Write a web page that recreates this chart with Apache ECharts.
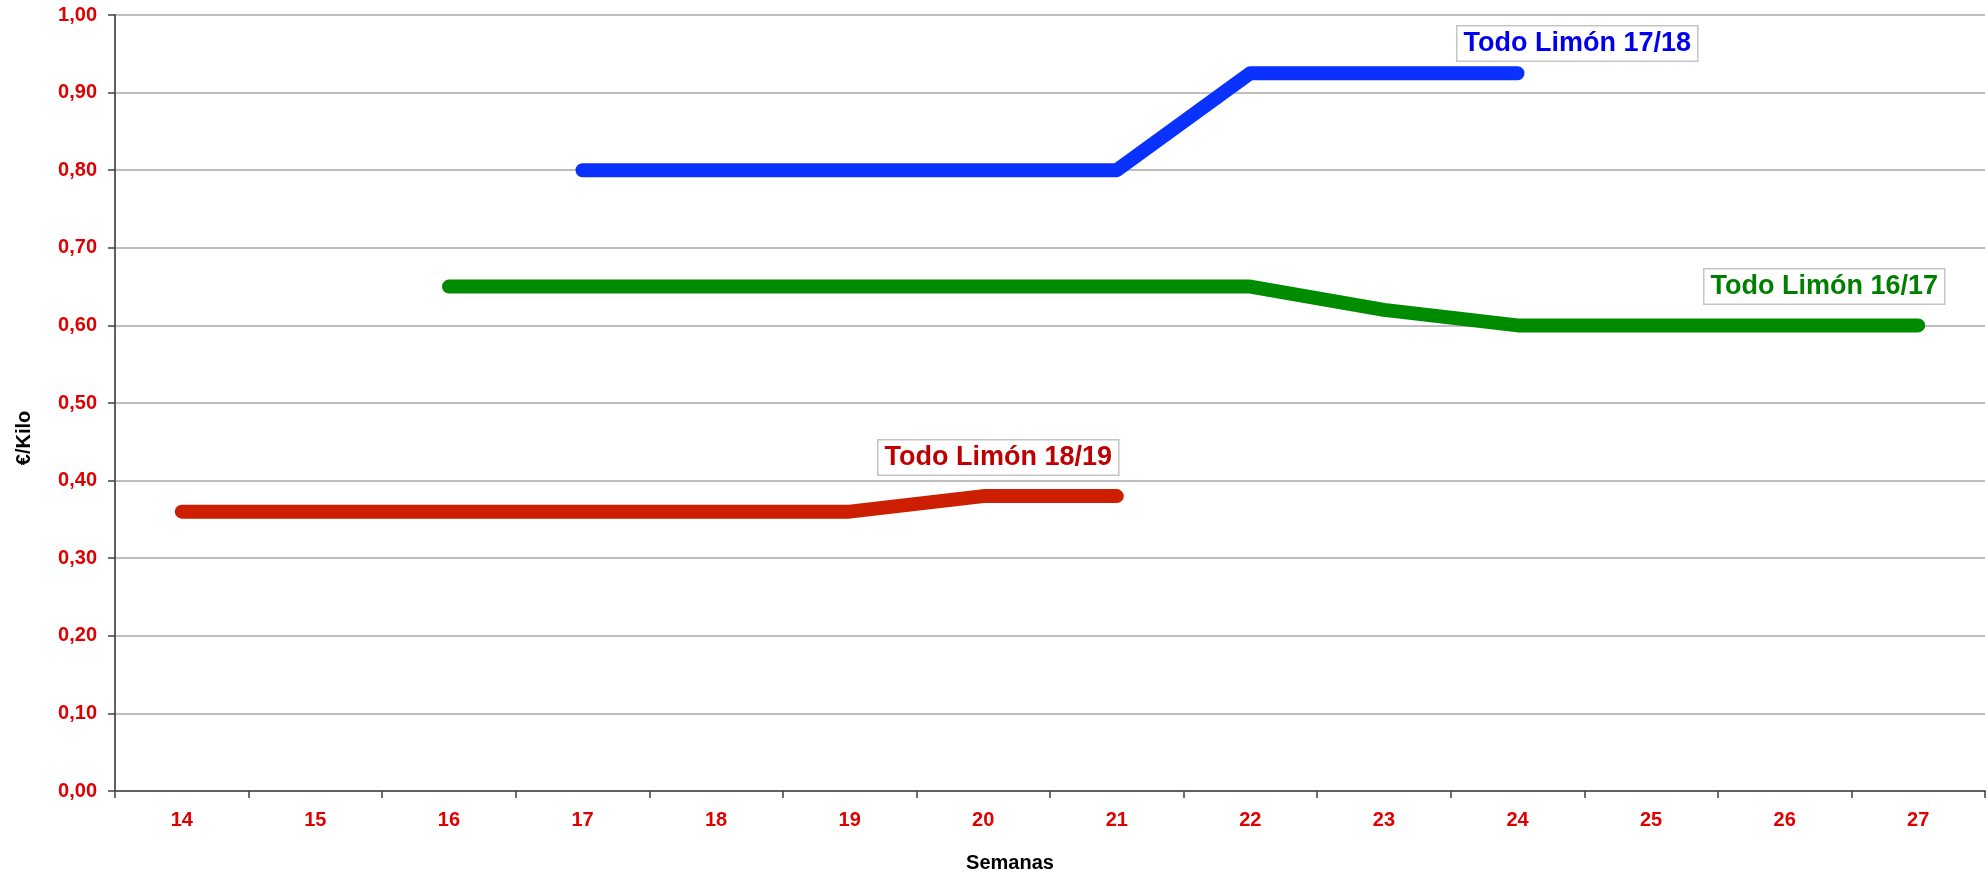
<!DOCTYPE html>
<html>
<head>
<meta charset="utf-8">
<script src="https://cdn.jsdelivr.net/npm/echarts@6/dist/echarts.min.js"></script>
<style>html,body{margin:0;padding:0;background:#fff}#c{width:1988px;height:875px}</style>
</head>
<body>
<div id="c"></div>
<script>
var weeks = ['14','15','16','17','18','19','20','21','22','23','24','25','26','27'];
var s1819 = [0.36,0.36,0.36,0.36,0.36,0.36,0.38,0.38,null,null,null,null,null,null];
var s1617 = [null,null,0.65,0.65,0.65,0.65,0.65,0.65,0.65,0.62,0.60,0.60,0.60,0.60];
var s1718 = [null,null,null,0.80,0.80,0.80,0.80,0.80,0.925,0.925,0.925,null,null,null];
var names = ['Todo Limón 18/19','Todo Limón 16/17','Todo Limón 17/18'];

var chart = echarts.init(document.getElementById('c'), null, {renderer:'canvas'});
var F = 'Liberation Sans, Arial, sans-serif';
function line(name, data, color){
  return {name:name, type:'line', data:data, showSymbol:false, symbol:'none', connectNulls:false,
    lineStyle:{color:color, width:14, cap:'round', join:'round'}, animation:false, z:3};
}
function box(text, x, y, color){
  return {type:'text', left:x, top:y, z:10,
    style:{text:text, fill:color, font:'bold 27px '+F, backgroundColor:'#fff',
      borderColor:'#c4c4c4', borderWidth:1.5, padding:[4,6,3,6]}};
}
chart.setOption({
  animation:false,
  backgroundColor:'#fff',
  grid:{left:115, right:3, top:15, bottom:84},
  xAxis:{type:'category', data:weeks, boundaryGap:true,
    axisLine:{lineStyle:{color:'#606060', width:2}},
    axisTick:{show:true, length:7, lineStyle:{color:'#404040', width:1.5}},
    axisLabel:{color:'#e00000', fontWeight:'bold', fontSize:20, fontFamily:F, margin:19},
    splitLine:{show:false}},
  yAxis:{type:'value', min:0, max:1, interval:0.1,
    axisLine:{show:true, lineStyle:{color:'#606060', width:2}},
    axisTick:{show:true, length:7, lineStyle:{color:'#404040', width:1.5}},
    axisLabel:{color:'#e00000', fontWeight:'bold', fontSize:20, fontFamily:F, margin:18,
      formatter:function(v){return v.toFixed(2).replace('.',',');}},
    splitLine:{show:true, lineStyle:{color:'#a8a8a8', width:1.5}}},
  series:[line(names[0], s1819, '#cc1e00'), line(names[1], s1617, '#008c00'), line(names[2], s1718, '#0a32ff')],
  graphic:[
    box(names[2], 1456, 25, '#0000ee'),
    box(names[1], 1703, 268, '#008000'),
    box(names[0], 877, 439, '#c00000'),
    {type:'text', x:24, y:438, rotation:Math.PI/2, z:10,
      style:{text:'€/Kilo', fill:'#000', font:'bold 20px '+F, align:'center', verticalAlign:'middle'}},
    {type:'text', x:1010, y:863, z:10,
      style:{text:'Semanas', fill:'#000', font:'bold 20px '+F, align:'center', verticalAlign:'middle'}}
  ]
});
</script>
</body>
</html>
